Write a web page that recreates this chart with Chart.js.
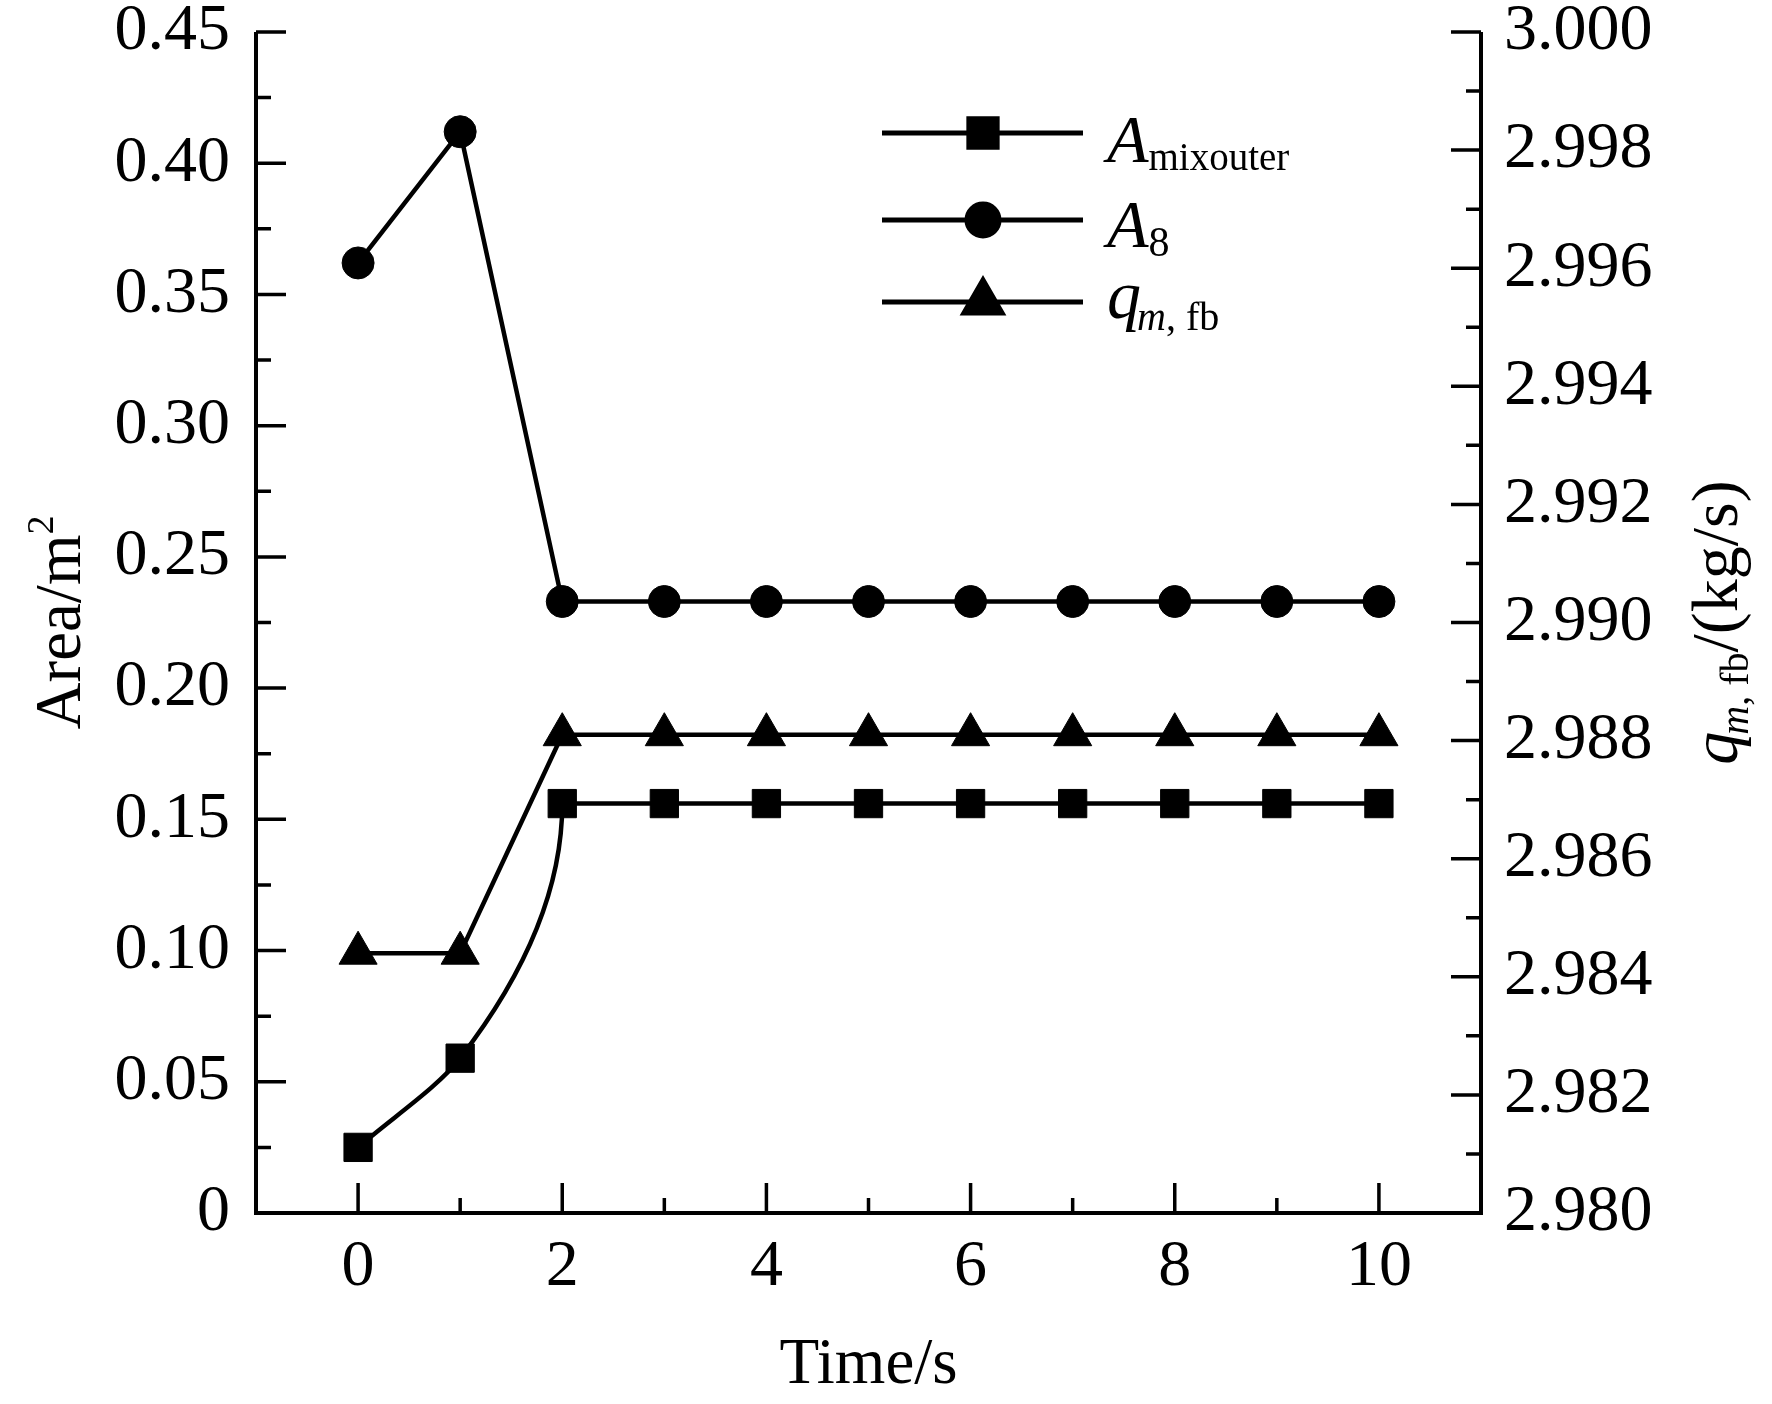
<!DOCTYPE html>
<html>
<head>
<meta charset="utf-8">
<script src="https://cdn.jsdelivr.net/npm/chart.js@4.4.0/dist/chart.umd.min.js"></script>
<style>
  html, body { margin: 0; padding: 0; background: #fff; }
  canvas { display: block; }
</style>
</head>
<body>
<canvas id="chart" width="1772" height="1404"></canvas>
<script>
// data
const timeS = [0, 1, 2, 3, 4, 5, 6, 7, 8, 9, 10];
const aMixOuter = [0.025, 0.059, 0.156, 0.156, 0.156, 0.156, 0.156, 0.156, 0.156, 0.156, 0.156];
const a8 = [0.362, 0.412, 0.233, 0.233, 0.233, 0.233, 0.233, 0.233, 0.233, 0.233, 0.233];
const qmFb = [2.9844, 2.9844, 2.9881, 2.9881, 2.9881, 2.9881, 2.9881, 2.9881, 2.9881, 2.9881, 2.9881];

// axes
const xTicks = [0, 2, 4, 6, 8, 10];
const xMinor = [1, 3, 5, 7, 9];
const leftTicks = [0, 0.05, 0.10, 0.15, 0.20, 0.25, 0.30, 0.35, 0.40, 0.45];
const leftMinor = [0.025, 0.075, 0.125, 0.175, 0.225, 0.275, 0.325, 0.375, 0.425];
const rightTicks = [2.980, 2.982, 2.984, 2.986, 2.988, 2.990, 2.992, 2.994, 2.996, 2.998, 3.000];
const rightMinor = [2.981, 2.983, 2.985, 2.987, 2.989, 2.991, 2.993, 2.995, 2.997, 2.999];

const SERIF = '"Liberation Serif", "Times New Roman", serif';
const MAJOR = 30, MINOR = 15;

const toPoints = (vals) => timeS.map((t, i) => ({ x: t, y: vals[i] }));

// legend rows: marker style + label pieces
const legendRows = [
  { style: 'rect', radius: 20, y: 133, parts: [
    { t: 'A', font: 'italic 68px', dy: 29 },
    { t: 'mixouter', font: '39px', dy: 37 } ] },
  { style: 'circle', radius: 16, y: 220, parts: [
    { t: 'A', font: 'italic 68px', dy: 27 },
    { t: '8', font: '42px', dy: 36 } ] },
  { style: 'triangle', radius: 22, y: 302, parts: [
    { t: 'q', font: 'italic 68px', dy: 16, kern: -4 },
    { t: 'm', font: 'italic 40px', dy: 28 },
    { t: ', fb', font: '40px', dy: 28 } ] }
];

function drawPieces(ctx, parts, x, y, center) {
  let total = 0;
  parts.forEach(p => {
    ctx.font = p.font + ' ' + SERIF;
    p.w = ctx.measureText(p.t).width + (p.kern || 0);
    total += p.w;
  });
  let cx = center ? x - total / 2 : x;
  parts.forEach(p => {
    ctx.font = p.font + ' ' + SERIF;
    ctx.fillText(p.t, cx, y + p.dy);
    cx += p.w;
  });
}

function marker(ctx, style, r, x, y) {
  if (Chart.helpers && Chart.helpers.drawPoint) {
    Chart.helpers.drawPoint(ctx, { pointStyle: style, radius: r, rotation: 0, borderWidth: 1 }, x, y);
    return;
  }
  ctx.beginPath();
  if (style === 'circle') ctx.arc(x, y, r, 0, Math.PI * 2);
  else if (style === 'rect') { const s = r * Math.SQRT1_2; ctx.rect(x - s, y - s, 2 * s, 2 * s); }
  else { ctx.moveTo(x, y - r); ctx.lineTo(x + r * 0.866, y + r / 2); ctx.lineTo(x - r * 0.866, y + r / 2); ctx.closePath(); }
  ctx.fill();
}

const framePlugin = {
  id: 'frame',
  afterDraw(chart) {
    const ctx = chart.ctx;
    const { left, right, top, bottom } = chart.chartArea;
    const sx = chart.scales.x, sl = chart.scales.yL, sr = chart.scales.yR;
    ctx.save();
    ctx.strokeStyle = '#000';
    ctx.fillStyle = '#000';

    // open frame: left, bottom, right
    ctx.lineWidth = 4;
    ctx.lineJoin = 'miter';
    ctx.beginPath();
    ctx.moveTo(left, top);
    ctx.lineTo(left, bottom);
    ctx.lineTo(right, bottom);
    ctx.lineTo(right, top);
    ctx.stroke();

    // inward tick marks
    ctx.lineWidth = 3.5;
    ctx.beginPath();
    xTicks.forEach(v => { const p = sx.getPixelForValue(v); ctx.moveTo(p, bottom); ctx.lineTo(p, bottom - MAJOR); });
    xMinor.forEach(v => { const p = sx.getPixelForValue(v); ctx.moveTo(p, bottom); ctx.lineTo(p, bottom - MINOR); });
    leftTicks.forEach(v => { const p = sl.getPixelForValue(v); ctx.moveTo(left, p); ctx.lineTo(left + MAJOR, p); });
    leftMinor.forEach(v => { const p = sl.getPixelForValue(v); ctx.moveTo(left, p); ctx.lineTo(left + MINOR, p); });
    rightTicks.forEach(v => { const p = sr.getPixelForValue(v); ctx.moveTo(right, p); ctx.lineTo(right - MAJOR, p); });
    rightMinor.forEach(v => { const p = sr.getPixelForValue(v); ctx.moveTo(right, p); ctx.lineTo(right - MINOR, p); });
    ctx.stroke();

    // axis titles
    ctx.textBaseline = 'alphabetic';
    ctx.textAlign = 'left';
    const midY = (top + bottom) / 2;
    drawPieces(ctx, [{ t: 'Time/s', font: '65px', dy: 0 }], (left + right) / 2, 1383, true);

    ctx.save();
    ctx.translate(80, midY);
    ctx.rotate(-Math.PI / 2);
    drawPieces(ctx, [
      { t: 'Area/m', font: '65px', dy: 0 },
      { t: '2', font: '38px', dy: -27 }
    ], 0, 0, true);
    ctx.restore();

    ctx.save();
    ctx.translate(1737, midY);
    ctx.rotate(-Math.PI / 2);
    drawPieces(ctx, [
      { t: 'q', font: 'italic 66px', dy: 0, kern: -3 },
      { t: 'm', font: 'italic 40px', dy: 11 },
      { t: ', fb', font: '40px', dy: 11 },
      { t: '/(kg/s)', font: '66px', dy: 0 }
    ], 0, 0, true);
    ctx.restore();

    // legend
    legendRows.forEach(row => {
      ctx.lineWidth = 5;
      ctx.beginPath();
      ctx.moveTo(882, row.y);
      ctx.lineTo(1083, row.y);
      ctx.stroke();
      marker(ctx, row.style, row.radius, 983, row.y);
      drawPieces(ctx, row.parts, 1107, row.y, false);
    });
    ctx.restore();
  }
};

const lineStyle = {
  borderColor: '#000',
  backgroundColor: '#000',
  pointBackgroundColor: '#000',
  pointBorderColor: '#000',
  pointBorderWidth: 1,
  borderWidth: 4.5,
  fill: false,
  clip: false,
  tension: 0
};

new Chart(document.getElementById('chart'), {
  type: 'line',
  data: {
    datasets: [
      Object.assign({}, lineStyle, {
        label: 'A mixouter',
        data: toPoints(aMixOuter),
        yAxisID: 'yL',
        indexAxis: 'y',
        cubicInterpolationMode: 'monotone',
        pointStyle: 'rect',
        pointRadius: 20
      }),
      Object.assign({}, lineStyle, {
        label: 'A 8',
        data: toPoints(a8),
        yAxisID: 'yL',
        pointStyle: 'circle',
        pointRadius: 16
      }),
      Object.assign({}, lineStyle, {
        label: 'q m,fb',
        data: toPoints(qmFb),
        yAxisID: 'yR',
        pointStyle: 'triangle',
        pointRadius: 22
      })
    ]
  },
  options: {
    responsive: false,
    animation: false,
    devicePixelRatio: 1,
    layout: { padding: { top: 32, left: 0, right: 0, bottom: 0 } },
    plugins: { legend: { display: false }, tooltip: { enabled: false } },
    scales: {
      x: {
        type: 'linear',
        position: 'bottom',
        min: -1,
        max: 11,
        grid: { display: false, drawTicks: false },
        border: { display: false },
        afterBuildTicks: s => { s.ticks = xTicks.map(v => ({ value: v })); },
        afterFit: s => { s.height = 191; s.paddingLeft = 0; s.paddingRight = 0; },
        ticks: {
          autoSkip: false, maxRotation: 0, padding: 15, color: '#000',
          font: { family: SERIF, size: 66 },
          callback: v => String(v)
        }
      },
      yL: {
        type: 'linear',
        position: 'left',
        min: 0,
        max: 0.45,
        grid: { display: false, drawTicks: false },
        border: { display: false },
        afterBuildTicks: s => { s.ticks = leftTicks.map(v => ({ value: v })); },
        afterFit: s => { s.width = 256; s.paddingTop = 0; s.paddingBottom = 0; },
        ticks: {
          autoSkip: false, padding: 26, color: '#000',
          font: { family: SERIF, size: 66 },
          callback: v => (v === 0 ? '0' : v.toFixed(2))
        }
      },
      yR: {
        type: 'linear',
        position: 'right',
        min: 2.980,
        max: 3.000,
        grid: { display: false, drawTicks: false },
        border: { display: false },
        afterBuildTicks: s => { s.ticks = rightTicks.map(v => ({ value: v })); },
        afterFit: s => { s.width = 291; s.paddingTop = 0; s.paddingBottom = 0; },
        ticks: {
          autoSkip: false, padding: 23, color: '#000',
          font: { family: SERIF, size: 66 },
          callback: v => v.toFixed(3)
        }
      }
    }
  },
  plugins: [framePlugin]
});
</script>
</body>
</html>
